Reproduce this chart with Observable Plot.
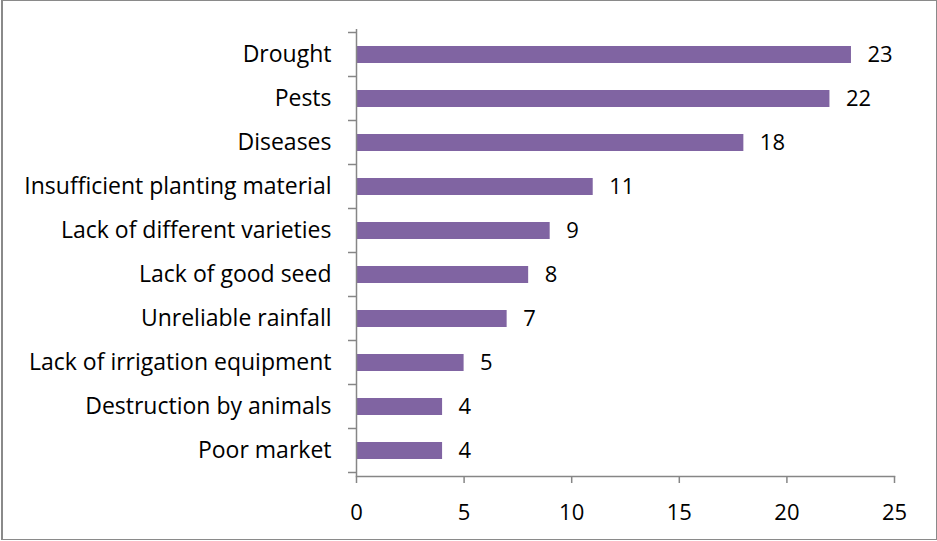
<!DOCTYPE html>
<html>
<head>
<meta charset="utf-8">
<script src="https://cdn.jsdelivr.net/npm/d3@7"></script>
<script src="https://cdn.jsdelivr.net/npm/@observablehq/plot@0.6"></script>
<style>
  html, body { margin: 0; padding: 0; background: #fff; }
  #wrap { position: relative; width: 937px; height: 541px; }
  #border {
    position: absolute; left: 1px; top: 0; width: 933px; height: 538px;
    border: 1px solid #8a8a8a; border-left-width: 2px; pointer-events: none;
  }
</style>
</head>
<body>
<div id="wrap"><div id="border"></div></div>
<script>
// Constraints reported by respondents (counts)
const categories = [
  "Drought",
  "Pests",
  "Diseases",
  "Insufficient planting material",
  "Lack of different varieties",
  "Lack of good seed",
  "Unreliable rainfall",
  "Lack of irrigation equipment",
  "Destruction by animals",
  "Poor market"
];
const counts = [23, 22, 18, 11, 9, 8, 7, 5, 4, 4];
const xTicks = [0, 5, 10, 15, 20, 25];

const data = categories.map((c, i) => ({category: c, count: counts[i]}));

const axisColor = "#868686";
const font = "Open Sans, sans-serif";

const plot = Plot.plot({
  width: 937,
  height: 541,
  marginLeft: 356,
  marginRight: 43,
  marginTop: 29,
  marginBottom: 65,
  style: {fontFamily: font, fontSize: "22px", color: "#000", background: "transparent"},
  x: {domain: [0, 25], ticks: xTicks},
  y: {domain: categories, paddingInner: 0.62, paddingOuter: 0.31},
  marks: [
    Plot.barX(data, {x: "count", y: "category", fill: "#8064a2"}),
    Plot.text(data, {
      x: "count", y: "category", text: d => String(d.count),
      textAnchor: "start", dx: 16, fill: "#000", fontSize: 22
    }),
    Plot.axisX({
      ticks: xTicks, tickSize: 7, tickPadding: 21, stroke: axisColor,
      strokeWidth: 1.5, fill: "#000", fontSize: 22, label: null
    }),
    Plot.axisY({tickSize: 0, tickPadding: 25, fill: "#000", fontSize: 23, label: null}),
    Plot.frame({anchor: "bottom", stroke: axisColor, strokeWidth: 1.5}),
    Plot.ruleX([0], {stroke: axisColor, strokeWidth: 1.5})
  ]
});

// Category tick marks sit on the band boundaries, like a classic category axis
const y = plot.scale("y");
const x = plot.scale("x");
const x0 = x.apply(0);
const bounds = categories.map(c => y.apply(c) - (y.step - y.bandwidth) / 2);
bounds.push(y.apply(categories[categories.length - 1]) + y.bandwidth + (y.step - y.bandwidth) / 2);
d3.select(plot).append("g")
  .attr("stroke", axisColor)
  .attr("stroke-width", 1.5)
  .selectAll("line")
  .data(bounds)
  .join("line")
  .attr("x1", x0 - 8)
  .attr("x2", x0)
  .attr("y1", d => d)
  .attr("y2", d => d);

plot.style.position = "absolute";
plot.style.left = "0";
plot.style.top = "0";
document.getElementById("wrap").prepend(plot);
</script>
</body>
</html>
